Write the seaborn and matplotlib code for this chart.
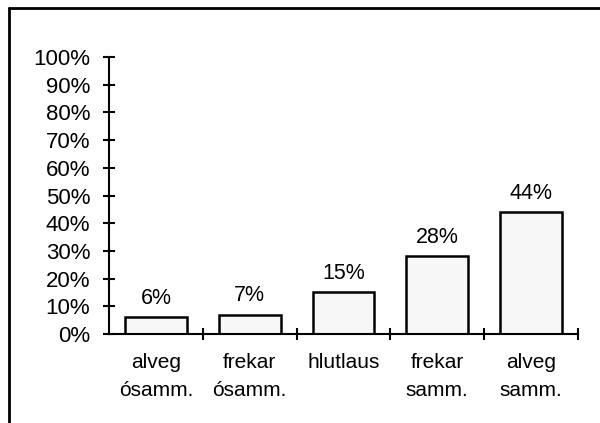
import matplotlib
matplotlib.use("Agg")
import matplotlib.pyplot as plt
from matplotlib.lines import Line2D
import seaborn as sns
import pandas as pd

categories = ["alveg\nósamm.", "frekar\nósamm.", "hlutlaus", "frekar\nsamm.", "alveg\nsamm."]
values = [6, 7, 15, 28, 44]
y_ticks = [0, 10, 20, 30, 40, 50, 60, 70, 80, 90, 100]

sns.set_theme(style="white")
plt.rcParams["font.family"] = ["Liberation Sans", "DejaVu Sans"]

df = pd.DataFrame({"flokkur": categories, "hlutfall": values})

fig = plt.figure(figsize=(6.0, 4.23), dpi=100)
ax = fig.add_axes([109 / 600, 89 / 423, 469 / 600, 277 / 423])

sns.barplot(data=df, x="flokkur", y="hlutfall", ax=ax, color="#f7f7f7",
            edgecolor="black", linewidth=1.8, width=0.66, saturation=1)

for patch, v in zip(ax.patches, values):
    ax.text(patch.get_x() + patch.get_width() / 2, v + 3.0, f"{v}%",
            ha="center", va="bottom", fontsize=15.5, color="black")

ax.set_xlim(-0.5, len(categories) - 0.5)
ax.set_ylim(0, 100)
ax.set_yticks(y_ticks)
ax.set_yticklabels([f"{t}%" for t in y_ticks])
ax.set_xlabel("")
ax.set_ylabel("")

# category boundaries carry the x-axis tick marks
ax.set_xticks([i + 0.5 for i in range(len(categories))], minor=True)
ax.tick_params(axis="x", which="major", length=0, pad=14, labelsize=15,
               labelcolor="black")
ax.tick_params(axis="x", which="minor", direction="inout", length=9,
               width=1.5, color="black", bottom=True)
ax.tick_params(axis="y", direction="inout", length=9, width=1.5,
               color="black", left=True, pad=9, labelsize=16, labelcolor="black")
for lbl in ax.get_xticklabels():
    lbl.set_multialignment("center")
    lbl.set_linespacing(1.58)

for side in ["top", "right"]:
    ax.spines[side].set_visible(False)
for side in ["left", "bottom"]:
    ax.spines[side].set_color("black")
    ax.spines[side].set_linewidth(1.5)

# outer frame around the chart
fig.add_artist(Line2D([9 / 600, 9 / 600], [0, 1 - 8 / 423],
                      transform=fig.transFigure, color="black", linewidth=2))
fig.add_artist(Line2D([9 / 600, 1], [1 - 8 / 423, 1 - 8 / 423],
                      transform=fig.transFigure, color="black", linewidth=2))

fig.savefig("out.png", dpi=100, facecolor="white")
